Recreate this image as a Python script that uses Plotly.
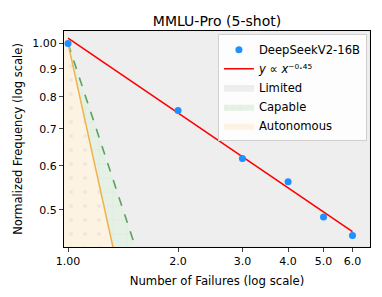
import plotly.graph_objects as go
import numpy as np

# Data
failures = [1, 2, 3, 4, 5, 6]
norm_freq = [1.0, 0.756, 0.619, 0.562, 0.485, 0.449]
fit_exponent = -0.45
fit_scale = 1.022
capable_exponent = -2.0
autonomous_exponent = -3.0

x_ticks = [1, 2, 3, 4, 5, 6]
x_tick_labels = ["1.00", "2.0", "3.0", "4.0", "5.0", "6.0"]
y_ticks = [0.5, 0.6, 0.7, 0.8, 0.9, 1.0]
y_tick_labels = ["0.5", "0.6", "0.7", "0.8", "0.9", "1.00"]

x_lo, x_hi = 0.975, 6.7
y_lo, y_hi = 0.428, 1.053

FONT = "DejaVu Sans"

fig = go.Figure()

# Limited region (whole plot area)
fig.add_trace(go.Scatter(
    x=[x_lo, x_hi, x_hi, x_lo, x_lo], y=[y_lo, y_lo, y_hi, y_hi, y_lo],
    fill="toself", fillcolor="#eeeeee", mode="lines",
    line=dict(width=0.5, color="#dddddd"), name="Limited",
    legendrank=3, hoverinfo="skip"))

def region(exp):
    # power line y = x^exp through (1,1); polygon to the left/below
    x_top = y_hi ** (1.0 / exp)
    x_bot = y_lo ** (1.0 / exp)
    return [x_lo, x_lo, x_top, x_bot, x_lo], [y_lo, y_hi, y_hi, y_lo, y_lo], x_top, x_bot

cx, cy, cxt, cxb = region(capable_exponent)
fig.add_trace(go.Scatter(
    x=cx, y=cy, fill="toself", fillcolor="rgba(226,240,226,1)", mode="lines",
    line=dict(width=0), name="Capable", legendrank=4, hoverinfo="skip",
    fillpattern=dict(shape="+", fgcolor="#d3dcd3", bgcolor="#e4f1e4",
                     size=14, solidity=0.08)))

ax, ay, axt, axb = region(autonomous_exponent)
fig.add_trace(go.Scatter(
    x=ax, y=ay, fill="toself", fillcolor="rgba(253,243,228,1)", mode="lines",
    line=dict(width=0), name="Autonomous", legendrank=5, hoverinfo="skip",
    fillpattern=dict(shape=".", fgcolor="#dcdcdc", bgcolor="#fdf3e3",
                     size=14, solidity=0.07)))

# boundary lines
fig.add_trace(go.Scatter(
    x=[1, cxb], y=[1, y_lo], mode="lines",
    line=dict(color="#5fa05f", width=1.6, dash="dash"), showlegend=False, hoverinfo="skip"))
fig.add_trace(go.Scatter(
    x=[1, axb], y=[1, y_lo], mode="lines",
    line=dict(color="#f0b24a", width=1.5), showlegend=False, hoverinfo="skip"))

# fit line
fx = np.array([failures[0], failures[-1]], dtype=float)
fy = fit_scale * fx ** fit_exponent
fig.add_trace(go.Scatter(
    x=fx, y=fy, mode="lines", line=dict(color="#ff0000", width=1.6),
    name="<i>y</i> ∝ <i>x</i>⁻⁰·⁴⁵", legendrank=2))

# data points
fig.add_trace(go.Scatter(
    x=failures, y=norm_freq, mode="markers",
    marker=dict(color="#1e90ff", size=7), name="DeepSeekV2-16B", legendrank=1))

fig.update_layout(
    width=382, height=297,
    margin=dict(l=64, r=12, t=31, b=50),
    paper_bgcolor="white", plot_bgcolor="#eeeeee",
    font=dict(family=FONT, size=11, color="black"),
    title=dict(text="MMLU-Pro (5-shot)", x=0.5, xanchor="center", y=0.93, yanchor="middle",
               xref="paper", font=dict(size=14)),
    showlegend=True,
    legend=dict(x=0.503, y=0.985, xanchor="left", yanchor="top", traceorder="normal",
                bgcolor="rgba(255,255,255,0.85)", bordercolor="#d0d0d0", borderwidth=1,
                font=dict(size=11.6, color="black"), tracegroupgap=0, itemwidth=30),
)
fig.update_xaxes(type="log", range=[np.log10(x_lo), np.log10(x_hi)], automargin=False,
                 tickvals=x_ticks, ticktext=x_tick_labels, ticks="outside", ticklen=4,
                 showgrid=False, zeroline=False, showline=True, linecolor="black",
                 linewidth=1, mirror=True, title=dict(text="Number of Failures (log scale)",
                                                      font=dict(size=11.7), standoff=9),
                 tickfont=dict(size=11))
fig.update_yaxes(type="log", range=[np.log10(y_lo), np.log10(y_hi)], automargin=False,
                 tickvals=y_ticks, ticktext=y_tick_labels, ticks="outside", ticklen=4,
                 showgrid=False, zeroline=False, showline=True, linecolor="black",
                 linewidth=1, mirror=True, title=dict(text="Normalized Frequency (log scale)",
                                                      font=dict(size=11.5), standoff=7),
                 tickfont=dict(size=11))

fig.write_html("out.html", config={"displayModeBar": False},
               post_script="document.body.style.margin='0px';")
